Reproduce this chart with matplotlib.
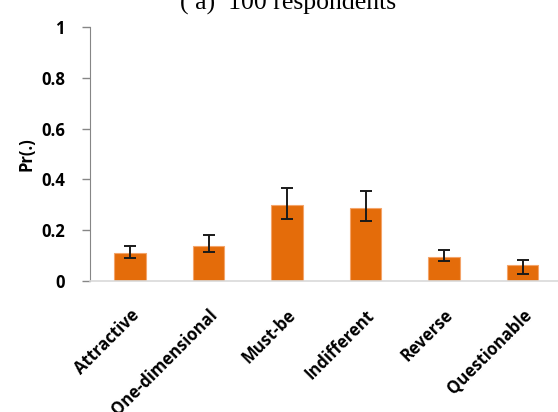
import matplotlib.pyplot as plt
import numpy as np

categories = ['Attractive', 'One-dimensional', 'Must-be', 'Indifferent', 'Reverse', 'Questionable']
values = [0.111, 0.138, 0.298, 0.286, 0.094, 0.062]
err_low = [0.092, 0.114, 0.243, 0.235, 0.080, 0.026]
err_high = [0.139, 0.181, 0.367, 0.354, 0.122, 0.084]
yticks = [0, 0.2, 0.4, 0.6, 0.8, 1]
ytick_labels = ['0', '0.2', '0.4', '0.6', '0.8', '1']

W, H = 558, 412
fig = plt.figure(figsize=(W / 100, H / 100), dpi=100)
ax = fig.add_axes([90 / W, 1 - 281 / H, 471 / W, 254 / H])

x = np.arange(len(categories))
vals = np.array(values)
yerr = [vals - np.array(err_low), np.array(err_high) - vals]

ax.bar(x, vals, width=0.4, color='#E46C0A', edgecolor='#F4A46A', linewidth=0.8, zorder=2)
ax.errorbar(x, vals, yerr=yerr, fmt='none', ecolor='#1a1a1a', elinewidth=1.4,
            capsize=4, capthick=1.4, zorder=3)

lab = dict(fontsize=12, fontweight='bold', family='Open Sans')
ax.set_xlim(-0.51, len(categories) - 0.51)
ax.set_ylim(0, 1)
ax.set_yticks(yticks)
ax.set_yticklabels(ytick_labels, **lab)
ax.set_xticks(x)
ax.set_xticklabels(categories, rotation=45, ha='right', rotation_mode='anchor', **lab)
ax.tick_params(axis='x', length=0, pad=18)
ax.tick_params(axis='y', length=6, width=1, color='#868686', pad=12)

for s in ['top', 'right']:
    ax.spines[s].set_visible(False)
ax.spines['left'].set_color('#868686')
ax.spines['bottom'].set_color('#d9d9d9')
ax.spines['bottom'].set_linewidth(1.2)

ax.set_ylabel('Pr(.)', labelpad=4, **lab)

fig.text(288 / W, 1 - 10 / H, '( a)  100 respondents', ha='center', va='baseline',
         fontsize=18.5, family='Liberation Serif')

fig.savefig('out.png', dpi=100)
